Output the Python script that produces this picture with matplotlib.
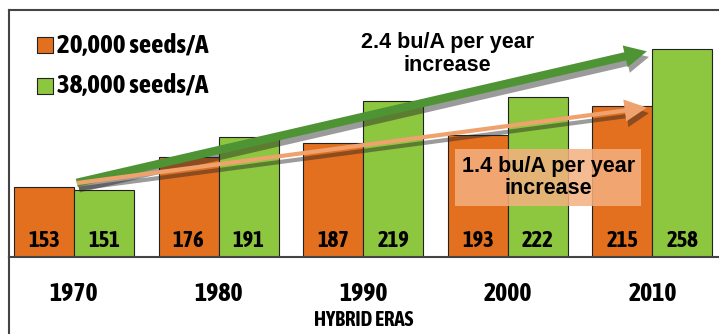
"""Hybrid era yield chart at two seeding rates."""
import matplotlib.pyplot as plt
import matplotlib.patheffects as pe
from matplotlib import font_manager
from matplotlib.lines import Line2D
import numpy as np

eras = ["1970", "1980", "1990", "2000", "2010"]
low_rate = [153, 176, 187, 193, 215]
high_rate = [151, 191, 219, 222, 258]
low_label = "20,000 seeds/A"
high_label = "38,000 seeds/A"
high_note = "2.4 bu/A per year\nincrease"
low_note = "1.4 bu/A per year\nincrease"

ORANGE = "#E2701F"
GREEN = "#8DC63F"


def is_bold(f):
    wt = f.weight
    if isinstance(wt, str):
        return "bold" in wt.lower() or "black" in wt.lower()
    return wt >= 600


# pick a narrow face if one is installed, bold if possible
fonts = font_manager.fontManager.ttflist
narrow_all = sorted({f.name for f in fonts if "Narrow" in f.name or "Condensed" in f.name})
narrow_bold = sorted({f.name for f in fonts
                      if ("Narrow" in f.name or "Condensed" in f.name) and is_bold(f)})
WIDE = ["Liberation Sans", "DejaVu Sans"]
if narrow_bold:
    NARROW = [narrow_bold[0]] + WIDE
    fake_bold = []
elif narrow_all:
    NARROW = [narrow_all[0]] + WIDE
    fake_bold = [pe.withStroke(linewidth=0.9, foreground="black")]
else:
    NARROW = WIDE
    fake_bold = []
k = 1.2 if narrow_all else 1.0

fig = plt.figure(figsize=(7.19, 3.34), dpi=100)
W, H = 719, 334
ax = fig.add_axes([9 / W, 1 - 257 / H, 710 / W, 247 / H])

x = np.arange(len(eras))
w = 0.415
ax.bar(x - w / 2, low_rate, w, color=ORANGE, edgecolor="#222222", linewidth=0.8, zorder=2)
ax.bar(x + w / 2, high_rate, w, color=GREEN, edgecolor="#222222", linewidth=0.8, zorder=2)

for i in range(len(eras)):
    ax.text(x[i] - w / 2, 112.5, str(low_rate[i]), ha="center", va="center",
            fontsize=13.5 * k, fontweight="bold", family=NARROW, zorder=6,
            path_effects=fake_bold)
    ax.text(x[i] + w / 2, 112.5, str(high_rate[i]), ha="center", va="center",
            fontsize=13.5 * k, fontweight="bold", family=NARROW, zorder=6,
            path_effects=fake_bold)

ax.set_xlim(-0.45, 4.46)
ax.set_ylim(100, 288)
ax.set_xticks(x)
ax.set_xticklabels(eras, fontsize=15.5 * k, fontweight="bold", family=NARROW)
for t in ax.get_xticklabels():
    t.set_path_effects(fake_bold)
ax.tick_params(axis="x", length=0, pad=17)
ax.set_yticks([])
ax.set_xlabel("HYBRID ERAS", fontsize=12.5 * k, fontweight="bold", family=NARROW, labelpad=3,
              path_effects=fake_bold)
ax.spines["right"].set_visible(False)
for s in ["left", "top", "bottom"]:
    ax.spines[s].set_color("#444444")
    ax.spines[s].set_linewidth(1.5)

# left frame line running down to the bottom of the picture
fig.add_artist(Line2D([9 / W, 9 / W], [0, 1 - 257 / H], color="#444444", lw=1.5))

# trend arrows from the 1970 bars to the 2010 bars
start = (x[0], max(low_rate[0], high_rate[0]) + 3)
shadow = [pe.SimplePatchShadow(offset=(1.5, -4), shadow_rgbFace="#222222", alpha=0.45), pe.Normal()]
ax.annotate("", xy=(x[-1] - 0.02, high_rate[-1] - 1), xytext=start,
            arrowprops=dict(arrowstyle="simple,head_length=1.6,head_width=1.6,tail_width=0.6",
                            color="#4E9434", lw=0, path_effects=shadow), zorder=5)
ax.annotate("", xy=(x[-1] - 0.02, low_rate[-1] - 1), xytext=start,
            arrowprops=dict(arrowstyle="simple,head_length=1.6,head_width=1.6,tail_width=0.3",
                            color="#F0A26E", lw=0, path_effects=shadow), zorder=5)

ax.text(2.58, 271, high_note, ha="center", va="top", fontsize=15.5, fontweight="bold",
        family=WIDE, linespacing=1.1, zorder=6)
ax.text(3.28, 177, low_note, ha="center", va="top", fontsize=15.5, fontweight="bold",
        family=WIDE, linespacing=1.1, zorder=6,
        bbox=dict(boxstyle="square,pad=0.3", facecolor="#F4B080", edgecolor="none", alpha=0.85))

# legend drawn by hand at the top left
for yy, col, lab in [(261, ORANGE, low_label), (230.5, GREEN, high_label)]:
    ax.scatter([-0.2], [yy], marker="s", s=130, color=col, edgecolor="#222222",
               linewidth=0.8, zorder=6)
    ax.text(-0.115, yy, lab, ha="left", va="center", fontsize=16.3 * k, fontweight="bold",
            family=NARROW, zorder=6, path_effects=fake_bold)

fig.savefig("out.png", dpi=100)
